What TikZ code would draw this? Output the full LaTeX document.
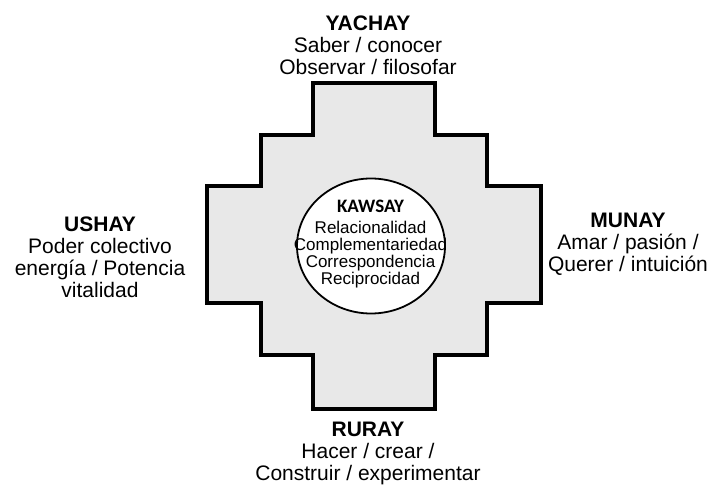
\documentclass[tikz,border=0pt]{standalone}
\usepackage{fontspec}
\setmainfont{Liberation Sans}
\newfontfamily\calib{Carlito}
\usetikzlibrary{shapes.geometric}
\definecolor{chakanafill}{RGB}{232,232,232}
\begin{document}
\begin{tikzpicture}[x=1pt,y=-1pt,
  dirtext/.style={align=center, inner sep=0pt, font=\fontsize{21}{22}\selectfont},
  chakana/.style={draw=black, fill=chakanafill, line width=3.3pt, line join=miter},
  centrecircle/.style={ellipse, draw=black, fill=white, line width=1.8pt,
    minimum width=148pt, minimum height=135pt, inner sep=0pt},
  centretext/.style={align=center, inner sep=0pt, font=\fontsize{17}{17}\selectfont}]
\useasboundingbox (0,0) rectangle (712,486);

% stepped cross
\path[chakana] (313,83) -- (435,83) -- (435,135) -- (487,135) -- (487,186)
  -- (541,186) -- (541,303) -- (487,303) -- (487,355) -- (435,355)
  -- (435,409) -- (313,409) -- (313,355) -- (261,355) -- (261,303)
  -- (207,303) -- (207,186) -- (261,186) -- (261,135) -- (313,135) -- cycle;

% centre
\node[centrecircle] (kawsay) at (371,246) {};
\node[centretext, anchor=north] (kawsaytext) at (370.5,200)
  {{\calib\bfseries\fontsize{19}{19}\selectfont KAWSAY}\\[4pt]
   Relacionalidad\\Complementariedad\\Correspondencia\\Reciprocidad};

% the four directions
\node[dirtext, anchor=north] (yachay) at (368,16)
  {\textbf{YACHAY}\\Saber / conocer\\Observar / filosofar};
\node[dirtext, anchor=south] (ruray) at (368,485.5)
  {\textbf{RURAY}\\Hacer / crear /\\Construir / experimentar};
\node[dirtext, anchor=north] (ushay) at (100,217)
  {\textbf{USHAY}\\Poder colectivo\\energía / Potencia\\vitalidad};
\node[dirtext, anchor=north] (munay) at (628,213)
  {\textbf{MUNAY}\\Amar / pasión /\\Querer / intuición};
\end{tikzpicture}
\end{document}
